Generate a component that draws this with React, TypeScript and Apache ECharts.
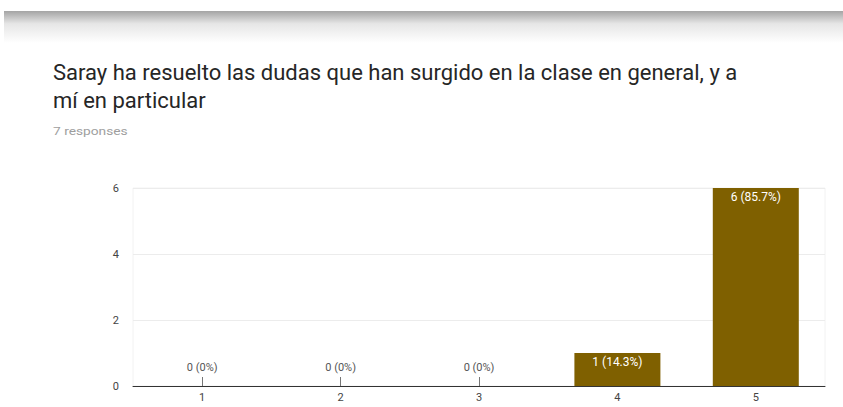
import React, { useEffect, useRef } from "react";
import * as echarts from "echarts";

const categories = ["1", "2", "3", "4", "5"];
const counts = [0, 0, 0, 1, 6];
const yTicks = [0, 2, 4, 6];
const titleLines = [
  "Saray ha resuelto las dudas que han surgido en la clase en general, y a",
  "mí en particular",
];
const subtitle = "7 responses";

export default function App() {
  const ref = useRef<HTMLDivElement>(null);
  useEffect(() => {
    if (!ref.current) return;
    const chart = echarts.init(ref.current, undefined, { renderer: "svg" });
    const total = counts.reduce((a, b) => a + b, 0);
    const fmt = (v: number) => {
      const p = total ? (v / total) * 100 : 0;
      const s = v === 0 ? "0" : p.toFixed(1);
      return `${v} (${s}%)`;
    };
    chart.setOption({
      animation: false,
      backgroundColor: "transparent",
      graphic: [
        ...titleLines.map((t, i) => ({
          type: "text",
          x: 53,
          y: 72 + i * 28,
          style: {
            text: t,
            fontFamily: "Roboto",
            fontSize: 22,
            fill: "#262626",
            verticalAlign: "middle",
          },
        })),
        {
          type: "text",
          x: 53,
          y: 131,
          scaleX: 1.25,
          style: {
            text: subtitle,
            fontFamily: "Roboto",
            fontSize: 11,
            fill: "#9e9e9e",
            verticalAlign: "middle",
          },
        },
      ],
      grid: {
        left: 133,
        right: 18,
        top: 188,
        bottom: 21,
        containLabel: false,
        show: true,
        borderColor: "#f2f2f2",
        borderWidth: 1,
      },
      xAxis: {
        type: "category",
        data: categories,
        axisLine: { lineStyle: { color: "#333333", width: 1 } },
        axisTick: { show: true, inside: true, alignWithLabel: true, length: 9, lineStyle: { color: "#777" } },
        axisLabel: { color: "#444", fontFamily: "Roboto", fontSize: 11, margin: 6 },
        splitLine: { show: false },
      },
      yAxis: {
        type: "value",
        min: yTicks[0],
        max: yTicks[yTicks.length - 1],
        interval: 2,
        axisLine: { show: false },
        axisTick: { show: false },
        axisLabel: { color: "#444", fontFamily: "Roboto", fontSize: 11, margin: 14 },
        splitLine: { lineStyle: { color: "#ececec" } },
      },
      series: [
        {
          type: "bar",
          barWidth: 86,
          data: counts.map((v) => ({
            value: v,
            label:
              v === 0
                ? { show: true, position: "top", color: "#555", distance: 13, fontSize: 11 }
                : { show: true, position: "insideTop", color: "#ffffff", distance: 3, fontSize: 12 },
          })),
          itemStyle: { color: "#7f6000" },
          label: {
            fontFamily: "Roboto",
            formatter: (p: any) => fmt(p.value),
          },
        },
      ],
    });
    return () => chart.dispose();
  }, []);
  return (
    <div style={{ position: "fixed", left: 0, top: 0, width: 843, height: 407, background: "#fff" }}>
      <div
        style={{
          position: "absolute",
          left: 4,
          right: 0,
          top: 11,
          height: 32,
          background: "linear-gradient(#a4a4a4, #e6e6e6 40%, #ffffff)",
        }}
      />
      <div ref={ref} style={{ position: "absolute", left: 0, top: 0, width: 843, height: 407 }} />
    </div>
  );
}
